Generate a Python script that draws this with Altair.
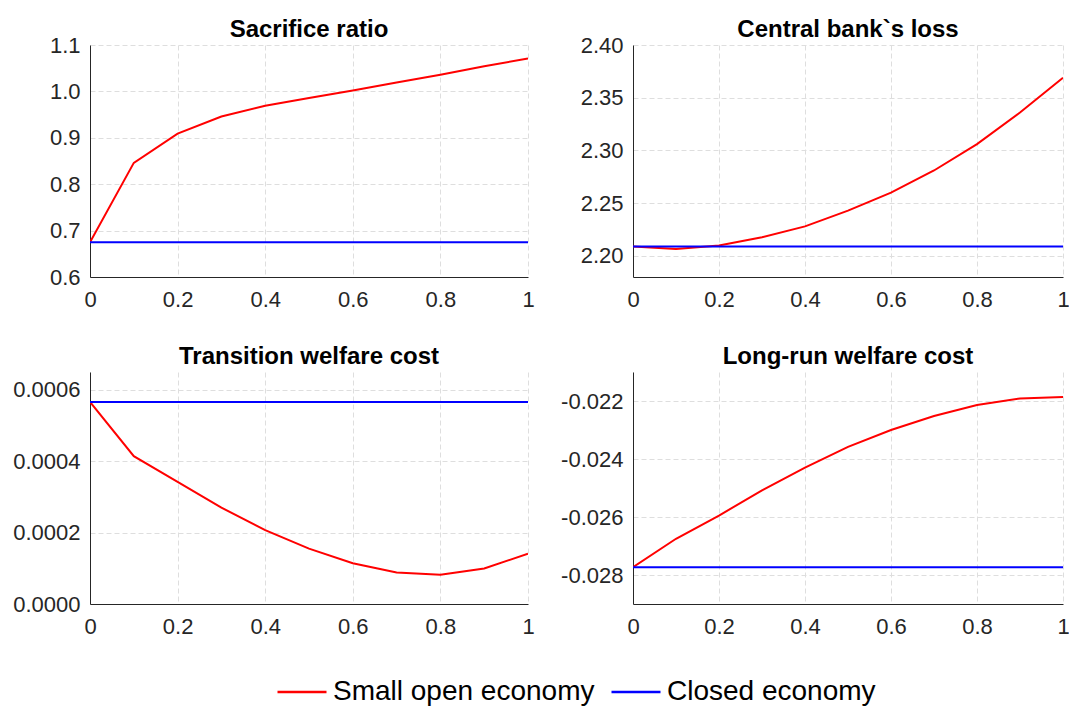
import altair as alt
import pandas as pd

x_vals = [0.0, 0.1, 0.2, 0.3, 0.4, 0.5, 0.6, 0.7, 0.8, 0.9, 1.0]
series_names = ["Small open economy", "Closed economy"]
series_colors = ["#ff0000", "#0000ff"]

sacrifice_open = [0.675, 0.846, 0.909, 0.946, 0.969, 0.986, 1.002, 1.019, 1.036, 1.054, 1.071]
sacrifice_closed = 0.675

loss_open = [2.209, 2.2066, 2.2098, 2.2177, 2.228, 2.243, 2.260, 2.281, 2.306, 2.336, 2.369]
loss_closed = 2.209

trans_open = [0.000566, 0.000414, 0.000342, 0.000270, 0.000207, 0.000155, 0.000114,
              0.0000884, 0.0000819, 0.0000995, 0.000141]
trans_closed = 0.000566

longrun_open = [-0.02773, -0.02675, -0.02595, -0.02508, -0.02430, -0.02358, -0.02300,
                -0.02252, -0.02214, -0.02191, -0.02186]
longrun_closed = -0.02773

x_ticks = [0, 0.2, 0.4, 0.6, 0.8, 1]

FONT = "Liberation Sans"


def panel(title, open_vals, closed_val, domain, ticks, fmt, width, extent, title_offset):
    n = len(x_vals)
    df = pd.DataFrame({
        "x": x_vals + x_vals,
        "y": list(open_vals) + [closed_val] * n,
        "series": [series_names[0]] * n + [series_names[1]] * n,
    })
    label_expr = "replace(format(datum.value, '%s'), '\u2212', '-')" % fmt
    return alt.Chart(df).mark_line(strokeWidth=2, clip=True).encode(
        x=alt.X("x:Q", scale=alt.Scale(domain=[0, 1], nice=False),
                axis=alt.Axis(values=x_ticks, format="~g", title=None, labelFlush=False,
                              labelPadding=12)),
        y=alt.Y("y:Q", scale=alt.Scale(domain=domain, nice=False, zero=False),
                axis=alt.Axis(values=ticks, labelExpr=label_expr, title=None,
                              labelPadding=10, minExtent=extent, maxExtent=extent)),
        color=alt.Color("series:N",
                        scale=alt.Scale(domain=series_names, range=series_colors),
                        legend=alt.Legend(title=None, orient="none", direction="horizontal",
                                          legendX=186, legendY=621, padding=0,
                                          symbolType="stroke", symbolSize=2401,
                                          symbolStrokeWidth=2.5, labelFontSize=28,
                                          labelFont=FONT, labelColor="#000000",
                                          labelOffset=5, columnPadding=11,
                                          labelLimit=400)),
        detail="series:N",
    ).properties(width=width, height=232,
                 title=alt.TitleParams(text=title, offset=title_offset))


p1 = panel("Sacrifice ratio", sacrifice_open, sacrifice_closed, [0.6, 1.1],
           [0.6, 0.7, 0.8, 0.9, 1.0, 1.1], ".1f", 438, 82, -8)
p2 = panel("Central bank`s loss", loss_open, loss_closed, [2.18, 2.40],
           [2.20, 2.25, 2.30, 2.35, 2.40], ".2f", 430, 82, -8)
p3 = panel("Transition welfare cost", trans_open, trans_closed, [0, 0.00065],
           [0, 0.0002, 0.0004, 0.0006], ".4f", 438, 82, 3)
p4 = panel("Long-run welfare cost", longrun_open, longrun_closed, [-0.029, -0.021],
           [-0.028, -0.026, -0.024, -0.022], ".3f", 430, 82, 3)

chart = alt.concat(
    p1, p2, p3, p4, columns=2, bounds="flush",
    spacing={"row": 95, "column": 105},
).properties(
    autosize=alt.AutoSizeParams(type="none"),
    padding={"top": 37, "left": 82, "right": 979, "bottom": 662},
).configure_view(
    stroke="transparent"
).configure_axis(
    labelFont=FONT, labelFontSize=22, labelColor="#262626",
    domainColor="#262626", domainWidth=1,
    gridColor="#dedede", gridDash=[5, 3], gridWidth=1,
    ticks=False,
).configure_title(
    font=FONT, fontSize=24, fontWeight="bold", color="#000000"
)

chart.save("out.html", embed_options={"renderer": "svg", "actions": False})
